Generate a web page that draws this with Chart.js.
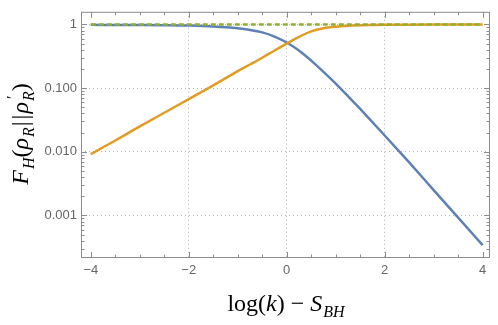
<!DOCTYPE html>
<html>
<head>
<meta charset="utf-8">
<script src="https://cdn.jsdelivr.net/npm/chart.js@4.4.1/dist/chart.umd.min.js"></script>
<style>
  html, body { margin: 0; padding: 0; background: #fff; }
  canvas { display: block; }
</style>
</head>
<body>
<canvas id="fid" width="498" height="325"></canvas>
<script>
// values
const xs = [-4, -3.5, -3, -2.5, -2, -1.5, -1, -0.75, -0.5, -0.25, 0, 0.25, 0.5, 0.75, 1, 1.25, 1.5, 2, 2.5, 3, 3.5, 4];
const blueVals = [0.985, 0.982, 0.978, 0.972, 0.96, 0.93, 0.87, 0.82, 0.75, 0.645, 0.52, 0.39, 0.27, 0.18, 0.118, 0.075, 0.047, 0.018, 0.0068, 0.0025, 0.00092, 0.00034];
const orangeVals = [0.0092, 0.015, 0.025, 0.041, 0.067, 0.11, 0.185, 0.235, 0.30, 0.39, 0.5, 0.64, 0.78, 0.87, 0.92, 0.95, 0.967, 0.985, 0.993, 0.997, 0.999, 1.0];
const greenXs = [-4, 4];
const greenVals = [1, 1];
const xTicks = [-4, -2, 0, 2, 4];
const yTicks = [0.001, 0.01, 0.1, 1];
const yTickLabels = ['0.001', '0.010', '0.100', '1'];

const pts = (x, y) => x.map((v, i) => ({x: v, y: y[i]}));

const frameColor = '#8c8c8c';

// frame + inward ticks on all four sides, like the original
const framePlugin = {
    id: 'frame',
    afterDraw(chart) {
        const c = chart.ctx, a = chart.chartArea;
        const sx = chart.scales.x, sy = chart.scales.y;
        c.save();
        c.strokeStyle = frameColor;
        c.lineWidth = 1;
        c.strokeRect(a.left + 0.5, a.top + 0.5, a.right - a.left - 1, a.bottom - a.top - 1);
        c.beginPath();
        for (let v = -4; v <= 4.001; v += 0.5) {
            const px = Math.round(sx.getPixelForValue(v)) + 0.5;
            const len = (v % 2 === 0) ? 6 : 3.5;
            c.moveTo(px, a.bottom); c.lineTo(px, a.bottom - len);
            c.moveTo(px, a.top); c.lineTo(px, a.top + len);
        }
        for (let d = -4; d <= 0; d++) {
            for (let m = 1; m <= 9; m++) {
                const v = m * Math.pow(10, d);
                if (v < sy.min || v > sy.max) continue;
                const py = Math.round(sy.getPixelForValue(v)) + 0.5;
                const len = m === 1 ? 6 : 3.5;
                c.moveTo(a.left, py); c.lineTo(a.left + len, py);
                c.moveTo(a.right, py); c.lineTo(a.right - len, py);
            }
        }
        c.stroke();
        c.restore();
    }
};

// axis titles with sub/superscripts
function drawRich(c, segs, size) {
    const base = '"Liberation Serif", "Times New Roman", serif';
    const small = Math.round(size * 0.68);
    const fontOf = (s, sz) => (s.it ? 'italic ' : '') + sz + 'px ' + base;
    let total = 0;
    segs.forEach(s => {
        let w = 0;
        if (s.t) { c.font = fontOf(s, size); w = c.measureText(s.t).width; }
        if (s.sub) { c.font = fontOf(s, small); w = Math.max(w, c.measureText(s.sub).width + 1); }
        if (s.sup) { c.font = fontOf(s, small); w = Math.max(w, c.measureText(s.sup).width + 1); }
        s.w = w + (s.gap || 0); total += s.w;
    });
    let x = -total / 2;
    segs.forEach(s => {
        if (s.t) { c.font = fontOf(s, size); c.fillText(s.t, x, 0); }
        if (s.sub) { c.font = fontOf(s, small); c.fillText(s.sub, x + (s.t ? 0 : 1), size * 0.27); }
        if (s.sup) { c.font = fontOf(s, small); c.fillText(s.sup, x + 2, -size * 0.42); }
        x += s.w;
    });
}

const titlePlugin = {
    id: 'titles',
    afterDraw(chart) {
        const c = chart.ctx;
        c.save();
        c.fillStyle = '#000';
        c.textBaseline = 'alphabetic';
        c.textAlign = 'left';
        c.translate(286, 311);
        drawRich(c, [
            {t: 'log('}, {t: 'k', it: true}, {t: ') \u2212 '},
            {t: 'S', it: true}, {sub: 'BH', it: true}
        ], 24);
        c.restore();
        c.save();
        c.fillStyle = '#000';
        c.textBaseline = 'alphabetic';
        c.textAlign = 'left';
        c.translate(28, 134);
        c.rotate(-Math.PI / 2);
        drawRich(c, [
            {t: 'F', it: true}, {sub: 'H', it: true}, {t: '('},
            {t: '\u03c1', it: true}, {sub: 'R', it: true, gap: 1}, {t: '|', gap: 2}, {t: '|', gap: 1},
            {t: '\u03c1', it: true}, {sup: '\u2032', sub: 'R', it: true}, {t: ')'}
        ], 24);
        c.restore();
    }
};

const ctx = document.getElementById('fid').getContext('2d');
const fidChart = new Chart(ctx, {
    type: 'line',
    data: {
        datasets: [{
            data: pts(greenXs, greenVals),
            borderColor: '#8fb032',
            borderWidth: 2.5,
            borderDash: [5, 3],
            pointRadius: 0,
            order: 0
        }, {
            data: pts(xs, orangeVals),
            borderColor: '#e19c24',
            borderWidth: 2.5,
            pointRadius: 0,
            cubicInterpolationMode: 'monotone',
            order: 1
        }, {
            data: pts(xs, blueVals),
            borderColor: '#5e81b5',
            borderWidth: 2.5,
            pointRadius: 0,
            cubicInterpolationMode: 'monotone',
            order: 2
        }]
    },
    options: {
        responsive: false,
        animation: false,
        devicePixelRatio: 1,
        layout: { padding: { left: 0, right: 8, top: 5, bottom: 0 } },
        plugins: { legend: { display: false }, tooltip: { enabled: false } },
        scales: {
            x: {
                type: 'linear',
                min: -4.2,
                max: 4.15,
                afterBuildTicks: s => { s.ticks = xTicks.map(v => ({value: v})); },
                afterFit: s => { s.height = 67; },
                ticks: {
                    color: '#666',
                    font: { family: '"Liberation Sans", Arial, sans-serif', size: 13 },
                    padding: 5,
                    maxRotation: 0,
                    callback: v => (v < 0 ? '\u2212' + Math.abs(v) : String(v))
                },
                grid: {
                    drawTicks: false,
                    color: c => (Math.abs(c.tick.value) === 4 ? 'rgba(0,0,0,0)' : '#b4b4b4'),
                    lineWidth: 1
                },
                border: { display: false, dash: [1, 3] }
            },
            y: {
                type: 'logarithmic',
                min: 0.000214,
                max: 1.58,
                afterBuildTicks: s => { s.ticks = yTicks.map(v => ({value: v})); },
                afterFit: s => { s.width = 81; },
                ticks: {
                    color: '#666',
                    font: { family: '"Liberation Sans", Arial, sans-serif', size: 13 },
                    padding: 4,
                    callback: v => yTickLabels[yTicks.indexOf(v)]
                },
                grid: { drawTicks: false, color: '#b4b4b4', lineWidth: 1 },
                border: { display: false, dash: [1, 3] }
            }
        }
    },
    plugins: [framePlugin, titlePlugin]
});
</script>
</body>
</html>
